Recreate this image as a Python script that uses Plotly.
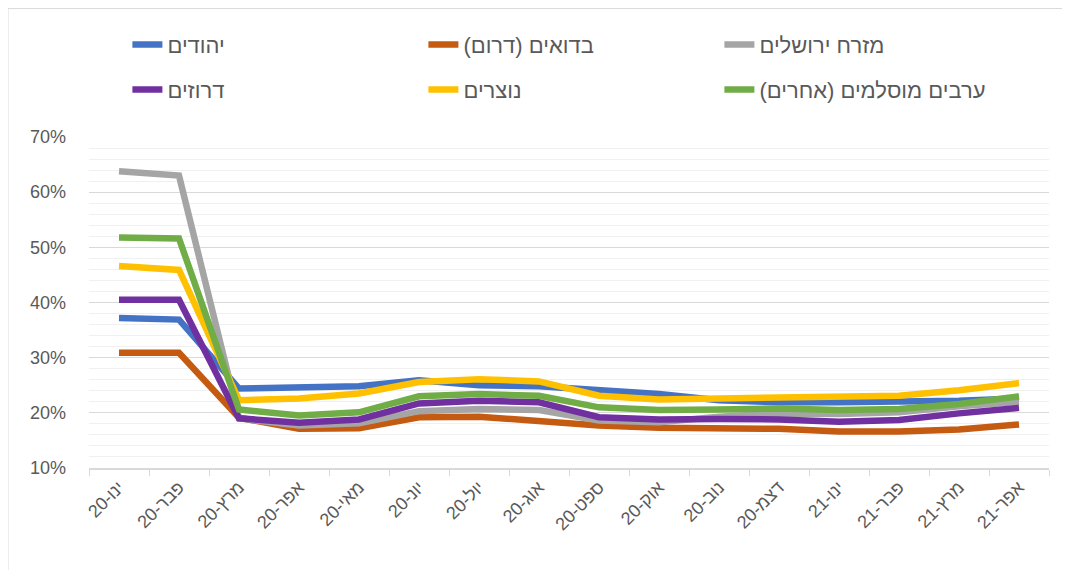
"""Line chart: monthly share by population group (Hebrew labels)."""

import plotly.graph_objects as go

RLM = "\u200f"

MONTHS = [
    "ינו-20", "פבר-20", "מרץ-20", "אפר-20", "מאי-20", "יונ-20", "יול-20", "אוג-20",
    "ספט-20", "אוק-20", "נוב-20", "דצמ-20", "ינו-21", "פבר-21", "מרץ-21", "אפר-21",
]

JEWS = [37.2, 36.9, 24.4, 24.5, 24.8, 25.9, 25.0, 24.8, 24.2, 23.4, 22.3, 21.9, 21.9, 22.0, 22.2, 22.6]
BEDOUIN = [30.9, 30.9, 19.1, 17.1, 17.2, 19.2, 19.3, 18.5, 17.7, 17.3, 17.3, 17.1, 16.6, 16.6, 17.0, 17.9]
EAST_JLM = [63.8, 63.0, 19.0, 17.7, 18.1, 20.3, 20.7, 20.5, 18.6, 18.3, 19.3, 19.9, 19.8, 20.1, 21.2, 22.0]
DRUZE = [40.5, 40.5, 19.0, 18.2, 18.8, 21.7, 22.2, 21.9, 19.2, 18.8, 18.9, 18.8, 18.4, 18.7, 19.9, 20.9]
CHRISTIANS = [46.6, 45.9, 22.3, 22.6, 23.5, 25.6, 26.1, 25.7, 23.1, 22.4, 22.6, 22.8, 22.8, 23.1, 24.1, 25.4]
MUSLIM_ARABS = [51.8, 51.6, 20.6, 19.5, 20.1, 23.0, 23.4, 23.1, 21.0, 20.5, 20.6, 20.8, 20.5, 20.7, 21.6, 23.0]

SERIES = [
    ("יהודים", JEWS, "#4472C4", "legend"),
    ("בדואים (דרום)", BEDOUIN, "#C55A11", "legend"),
    ("מזרח ירושלים", EAST_JLM, "#A5A5A5", "legend"),
    ("דרוזים", DRUZE, "#7030A0", "legend2"),
    ("נוצרים", CHRISTIANS, "#FFC000", "legend2"),
    ("ערבים מוסלמים (אחרים)", MUSLIM_ARABS, "#70AD47", "legend2"),
]

TEXT_COLOR = "#595959"
FONT = "Liberation Sans, Arial, DejaVu Sans, sans-serif"

fig = go.Figure()
for name, values, color, legend in SERIES:
    fig.add_trace(
        go.Scatter(
            x=MONTHS,
            y=values,
            name=RLM + name + RLM,
            mode="lines",
            line=dict(color=color, width=6.5),
            legend=legend,
        )
    )

# the page body adds an 8px offset, so the figure is 8px smaller than the window
legend_style = dict(
    orientation="h",
    xanchor="left",
    yanchor="middle",
    x=0.040,
    entrywidth=251,
    entrywidthmode="pixels",
    font=dict(size=22, color=TEXT_COLOR, family=FONT),
    bgcolor="rgba(0,0,0,0)",
)

fig.update_layout(
    width=1062,
    height=562,
    paper_bgcolor="white",
    plot_bgcolor="white",
    font=dict(family=FONT, color=TEXT_COLOR, size=18),
    margin=dict(l=81, r=21, t=129, b=101.5),
    legend=dict(legend_style, y=1.279),
    legend2=dict(legend_style, y=1.143),
    xaxis=dict(
        type="category",
        range=[-0.5, len(MONTHS) - 0.5],
        tickmode="array",
        tickvals=MONTHS,
        ticktext=[RLM + m for m in MONTHS],
        tickangle=-45,
        tickson="boundaries",
        ticks="outside",
        ticklen=6,
        tickcolor="#D9D9D9",
        showline=True,
        linecolor="#D9D9D9",
        linewidth=1.5,
        showgrid=False,
        tickfont=dict(size=18, color=TEXT_COLOR),
    ),
    yaxis=dict(
        range=[10, 70],
        dtick=10,
        ticksuffix="%",
        showgrid=True,
        gridcolor="#D9D9D9",
        gridwidth=1,
        zeroline=False,
        ticklabelstandoff=22,
        tickfont=dict(size=18, color=TEXT_COLOR),
        minor=dict(dtick=2, showgrid=True, gridcolor="#F0F0F0", gridwidth=1),
    ),
    shapes=[
        dict(
            type="rect",
            xref="paper",
            yref="paper",
            x0=-0.0844,
            x1=1.3,
            y0=-0.6,
            y1=1.388,
            line=dict(color="#D9D9D9", width=1),
            layer="below",
        )
    ],
)

fig.write_html("out.html")
